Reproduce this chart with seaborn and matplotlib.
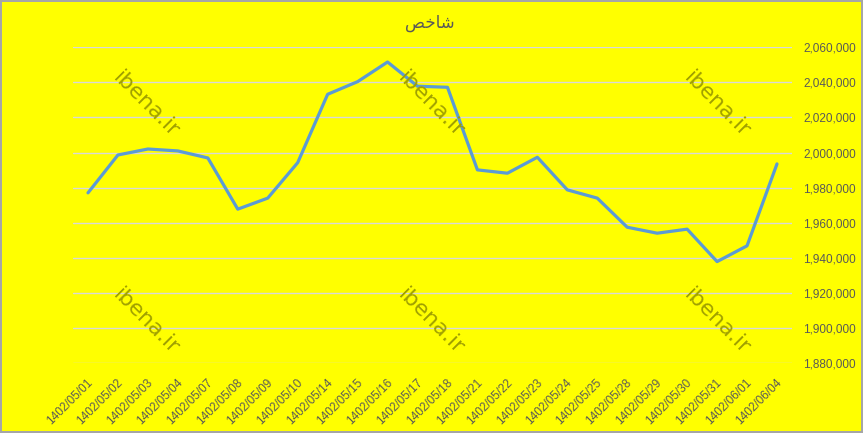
import numpy as np
import pandas as pd
import seaborn as sns
import matplotlib.pyplot as plt
import matplotlib.transforms as mtransforms
from matplotlib.ticker import FuncFormatter

# data
dates = ["1402/05/01", "1402/05/02", "1402/05/03", "1402/05/04", "1402/05/07", "1402/05/08",
         "1402/05/09", "1402/05/10", "1402/05/14", "1402/05/15", "1402/05/16", "1402/05/17",
         "1402/05/18", "1402/05/21", "1402/05/22", "1402/05/23", "1402/05/24", "1402/05/25",
         "1402/05/28", "1402/05/29", "1402/05/30", "1402/05/31", "1402/06/01", "1402/06/04"]
index_values = [1977000, 1998600, 2002000, 2000900, 1996900, 1967700,
                1974000, 1994200, 2033200, 2040400, 2051600, 2037800,
                2037200, 1990100, 1988200, 1997300, 1978700, 1974000,
                1957400, 1954000, 1956300, 1937800, 1946800, 1993500]
y_ticks = list(range(1880000, 2060001, 20000))

# "شاخص" in shaped presentation forms, visual order (matplotlib has no arabic shaping)
title_text = "\uFEBA\uFEA7\uFE8E\uFEB7"
watermark = "ibena.ir"

df = pd.DataFrame({"date": dates, "value": index_values})
df["pos"] = np.arange(len(df))

sns.set_theme(style="white")
plt.rcParams['font.family'] = ['Liberation Sans', 'DejaVu Sans']

yellow = "#FFFF00"
fig = plt.figure(figsize=(8.63, 4.33), dpi=100, facecolor=yellow)
fig.patch.set_edgecolor("#A6A6A6")
fig.patch.set_linewidth(1.5)
ax = fig.add_axes([0.0846, 0.1617, 0.8331, 0.7291])
ax.set_facecolor(yellow)

sns.lineplot(data=df, x="pos", y="value", ax=ax, color="#5B9BD5", linewidth=2.3)

ax.set_xlim(-0.5, len(dates) - 0.5)
ax.set_ylim(1880000, 2060000)
ax.set_yticks(y_ticks)
ax.yaxis.set_major_formatter(FuncFormatter(lambda v, p: f"{int(v):,}"))
ax.yaxis.tick_right()
ax.grid(axis="y", color="#D9D9D9", linewidth=1)
ax.grid(axis="x", visible=False)
for s in ax.spines.values():
    s.set_visible(False)

ax.set_xticks(df["pos"])
ax.set_xticklabels(dates, rotation=45, ha="right", va="center", rotation_mode="anchor")
ax.tick_params(axis="x", length=0, pad=13, labelsize=8.5, labelcolor="#595959")
ax.tick_params(axis="y", length=0, pad=8, labelsize=8.5, labelcolor="#595959")
# nudge the date labels a little to the right, like excel does
shift = mtransforms.ScaledTranslation(3 / 100, 0, fig.dpi_scale_trans)
for lbl in ax.get_xticklabels():
    lbl.set_transform(lbl.get_transform() + shift)
ax.set_xlabel("")
ax.set_ylabel("")

fig.text(0.498, 0.948, title_text, ha="center", va="center", fontsize=12,
         color="#595959", family=["DejaVu Sans"])

# watermarks
for wx in [146, 431, 717]:
    for wy in [105, 322]:
        fig.text(wx / 863, 1 - wy / 433, watermark, ha="center", va="center",
                 rotation=-45, fontsize=16, color="#A0A000",
                 family=["DejaVu Sans"], zorder=5)

fig.savefig("out.png", dpi=100, facecolor=yellow, edgecolor=fig.patch.get_edgecolor())
